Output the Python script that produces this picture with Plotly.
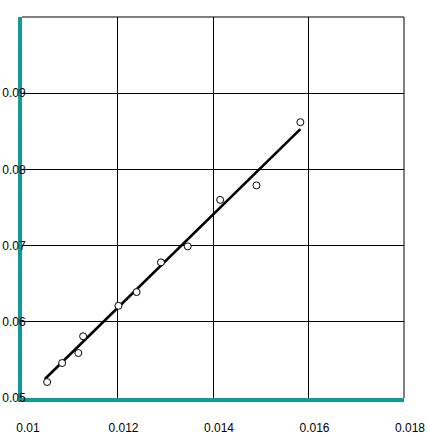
import plotly.graph_objects as go

# measured points
x_vals = [0.010526, 0.01084, 0.01118, 0.01128, 0.01202, 0.0124, 0.01291, 0.01347, 0.01415, 0.01491, 0.01583]
y_vals = [0.0521, 0.05459, 0.0559, 0.0581, 0.0621, 0.0639, 0.0678, 0.0699, 0.0760, 0.0779, 0.0862]

# fitted line endpoints
fit_x = [0.01048, 0.01583]
fit_y = [0.0525, 0.08528]

x_ticks = [0.010, 0.012, 0.014, 0.016, 0.018]
x_tick_labels = ["0.01", "0.012", "0.014", "0.016", "0.018"]
y_ticks = [0.05, 0.06, 0.07, 0.08, 0.09, 0.10]
y_tick_labels = ["0.05", "0.06", "0.07", "0.08", "0.09", ""]

TEAL = "#109b95"
FONT = dict(family="Liberation Sans, Arial", size=12, color="black")

fig = go.Figure()
fig.add_trace(go.Scatter(x=fit_x, y=fit_y, mode="lines",
                         line=dict(color="black", width=2.6), showlegend=False))
fig.add_trace(go.Scatter(x=x_vals, y=y_vals, mode="markers",
                         marker=dict(symbol="circle", size=7, color="white",
                                     line=dict(color="black", width=1)),
                         showlegend=False))

fig.update_layout(
    width=430, height=444,
    margin=dict(l=22, r=26, t=17, b=46),
    paper_bgcolor="white", plot_bgcolor="white",
    font=FONT,
    xaxis=dict(range=[0.010, 0.018], tickvals=x_ticks, ticktext=x_tick_labels,
               showgrid=True, gridcolor="black", gridwidth=1,
               showline=True, linecolor=TEAL, linewidth=4, automargin=False,
               zeroline=False, ticks="", ticklabelstandoff=16, ticklabelshift=6),
    yaxis=dict(range=[0.05, 0.10], tickvals=y_ticks, ticktext=y_tick_labels,
               showgrid=True, gridcolor="black", gridwidth=1,
               showline=True, linecolor=TEAL, linewidth=4, automargin=False,
               zeroline=False, ticks="", ticklabelstandoff=-10),
    shapes=[
        dict(type="line", xref="paper", yref="paper", x0=0, x1=1, y0=1, y1=1,
             line=dict(color="black", width=1)),
        dict(type="line", xref="paper", yref="paper", x0=1, x1=1, y0=0, y1=1,
             line=dict(color="black", width=1)),
    ],
)

fig.write_html("out.html", config={"displayModeBar": False},
               post_script="document.body.style.margin='0';")
